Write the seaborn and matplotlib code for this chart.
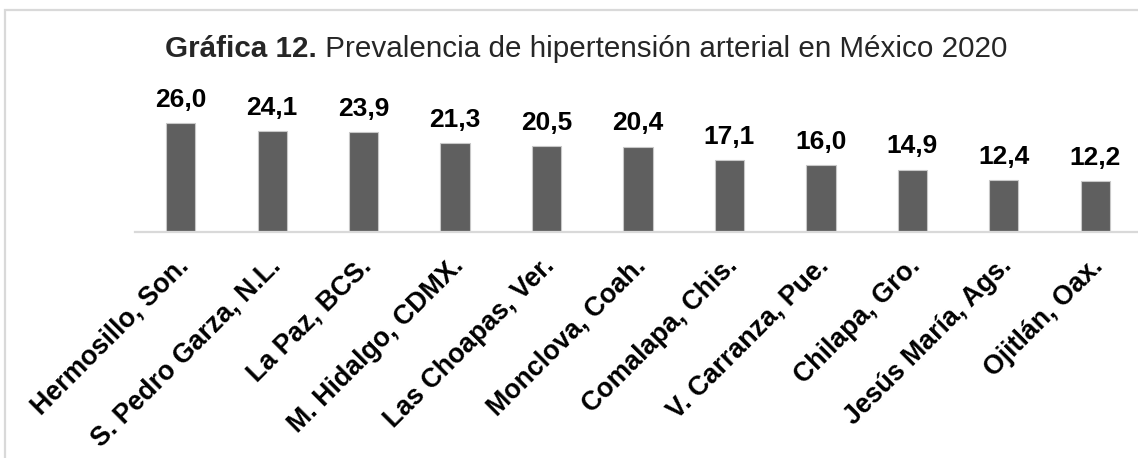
import seaborn as sns
import matplotlib.pyplot as plt
import matplotlib.patches as patches
import matplotlib.transforms as mtransforms
import pandas as pd

# Data
municipios = ['Hermosillo, Son.', 'S. Pedro Garza, N.L.', 'La Paz, BCS.', 'M. Hidalgo, CDMX.',
              'Las Choapas, Ver.', 'Monclova, Coah.', 'Comalapa, Chis.', 'V. Carranza, Pue.',
              'Chilapa, Gro.', 'Jesús María, Ags.', 'Ojitlán, Oax.']
prevalencia = [26.0, 24.1, 23.9, 21.3, 20.5, 20.4, 17.1, 16.0, 14.9, 12.4, 12.2]

df = pd.DataFrame({'municipio': municipios, 'prevalencia': prevalencia})

sns.set_theme(style='white')
plt.rcParams['font.family'] = ['Liberation Sans', 'DejaVu Sans']

W, H = 1138, 458
fig = plt.figure(figsize=(W / 100, H / 100), dpi=100)
ax = fig.add_axes([135 / W, 1 - 232 / H, 1006 / W, 125.7 / H])

sns.barplot(data=df, x='municipio', y='prevalencia', color='#5f5f5f', saturation=1,
            width=0.32, edgecolor='#c8c8c8', linewidth=0.8, ax=ax)

ax.set_xlim(-0.5, len(municipios) - 0.5)
ax.set_ylim(0, 30)
ax.set_xlabel('')
ax.set_ylabel('')
ax.set_yticks([])

labels = [f'{v:.1f}'.replace('.', ',') for v in prevalencia]
ax.bar_label(ax.containers[0], labels=labels, padding=8, fontsize=19, fontweight='bold',
             color='black', clip_on=False)

ax.tick_params(axis='x', length=0, pad=15)
ax.set_xticks(range(len(municipios)))
ax.set_xticklabels(municipios, rotation=45, ha='right', rotation_mode='anchor',
                   fontsize=19.3, fontweight='bold', color='black')
shift = mtransforms.ScaledTranslation(-5 / 100, 0, fig.dpi_scale_trans)
for lbl in ax.get_xticklabels():
    lbl.set_transform(lbl.get_transform() + shift)

for side in ['top', 'right', 'left']:
    ax.spines[side].set_visible(False)
ax.spines['bottom'].set_color('#d9d9d9')
ax.spines['bottom'].set_linewidth(1.6)

# Title: bold prefix + regular text
t1 = fig.text(165 / W, 1 - 57 / H, 'Gráfica 12.', fontsize=21.3, fontweight='bold',
              ha='left', va='baseline')
fig.canvas.draw()
ax.annotate(' Prevalencia de hipertensión arterial en México 2020', xy=(1, 0),
            xycoords=t1, ha='left', va='bottom', fontsize=21.3, annotation_clip=False)

# Outer frame (open on right and bottom, as in the reference crop)
frame = patches.Rectangle((5 / W, -0.1), 1.2, 1 - 10 / H + 0.1, transform=fig.transFigure,
                          fill=False, edgecolor='#d9d9d9', linewidth=1.6, clip_on=False)
fig.patches.append(frame)

fig.savefig('out.png', dpi=100)
